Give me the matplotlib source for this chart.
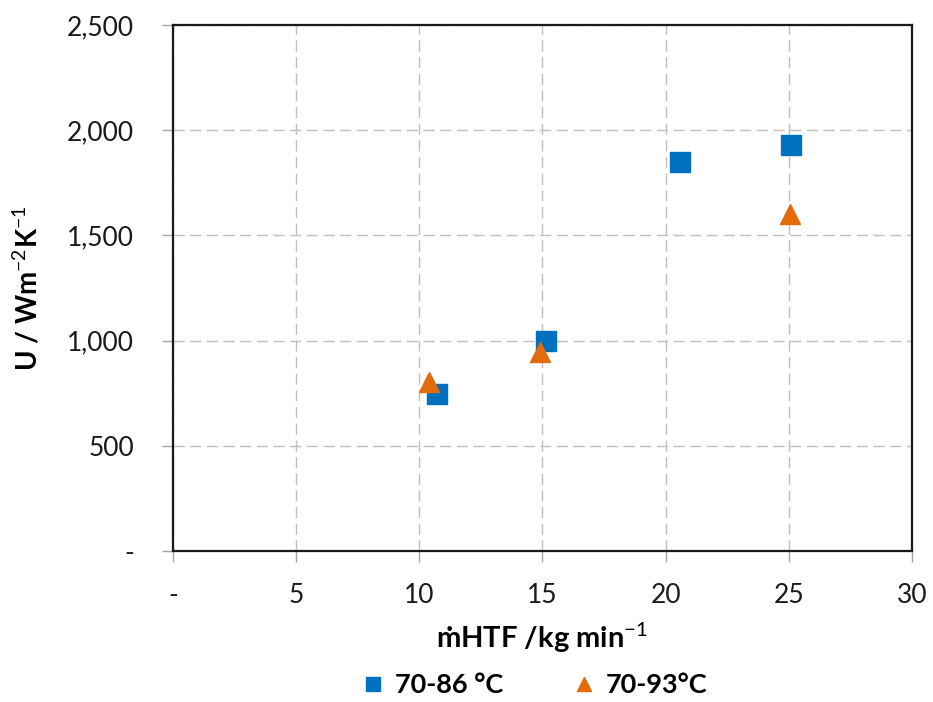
import matplotlib
matplotlib.use("Agg")
import matplotlib.pyplot as plt
from matplotlib.ticker import FuncFormatter, MultipleLocator

# Overall heat transfer coefficient vs. HTF mass flow rate
flow_86 = [10.7, 15.15, 20.6, 25.1]
u_86 = [745, 1000, 1850, 1930]
flow_93 = [10.4, 14.9, 25.05]
u_93 = [805, 945, 1600]

series_labels = ["70-86 \u00b0C", "70-93\u00b0C"]
blue = "#0070C0"
orange = "#E36C09"

plt.rcParams["font.family"] = ["Lato", "DejaVu Sans"]
plt.rcParams["mathtext.fontset"] = "custom"
plt.rcParams["mathtext.rm"] = "Lato"
plt.rcParams["mathtext.bf"] = "Lato:bold"

fig = plt.figure(figsize=(9.33, 7.02), dpi=100)
ax = fig.add_axes([0.1854, 0.2151, 0.792, 0.7493])

ax.plot(flow_86, u_86, linestyle="none", marker="s", markersize=14,
        color=blue, label=series_labels[0], zorder=3)
ax.plot(flow_93, u_93, linestyle="none", marker="^", markersize=14,
        color=orange, label=series_labels[1], zorder=3)

ax.set_xlim(0, 30)
ax.set_ylim(0, 2500)
ax.xaxis.set_major_locator(MultipleLocator(5))
ax.yaxis.set_major_locator(MultipleLocator(500))


def fmt(v, pos):
    return "-" if abs(v) < 1e-9 else f"{v:,.0f}"


ax.xaxis.set_major_formatter(FuncFormatter(fmt))
ax.yaxis.set_major_formatter(FuncFormatter(fmt))

ax.grid(True, color="#BFBFBF", linestyle=(0, (8, 4)), linewidth=1.0)
ax.set_axisbelow(True)

for side in ["left", "right", "top", "bottom"]:
    ax.spines[side].set_color("#1a1a1a")
    ax.spines[side].set_linewidth(1.6)

ax.tick_params(axis="both", direction="out", length=8, width=1,
               color="#A6A6A6", labelsize=19, labelcolor="#1a1a1a")
ax.tick_params(axis="y", pad=20)
ax.tick_params(axis="x", pad=15)

ax.set_xlabel("\u1e41HTF /kg min$^{-1}$", fontsize=21, fontweight="bold")
ax.set_ylabel("U / Wm$^{-2}$K$^{-1}$", fontsize=20, fontweight="bold")
ax.xaxis.set_label_coords(0.499, -0.132)
ax.yaxis.set_label_coords(-0.177, 0.5)

fig.legend(loc="center", bbox_to_anchor=(0.572, 0.024), ncol=2,
           frameon=False, prop={"size": 19.5, "weight": "bold"},
           handletextpad=0.3, columnspacing=2.5, handlelength=1.0,
           markerscale=0.72)

fig.savefig("out.png", dpi=100)
